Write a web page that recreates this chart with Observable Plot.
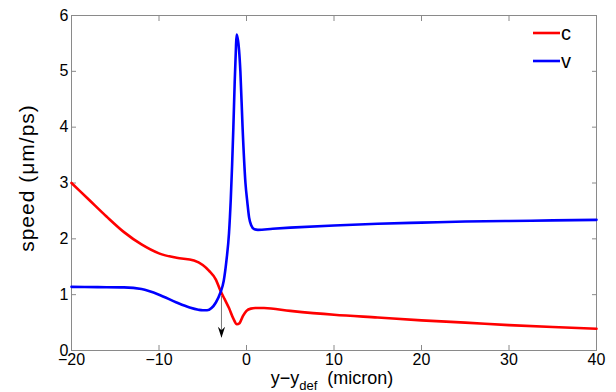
<!DOCTYPE html>
<html>
<head>
<meta charset="utf-8">
<script src="https://cdn.jsdelivr.net/npm/d3@7"></script>
<script src="https://cdn.jsdelivr.net/npm/@observablehq/plot@0.6"></script>
<style>
  html, body { margin: 0; padding: 0; background: #fff; }
  #chart { width: 616px; height: 392px; }
</style>
</head>
<body>
<div id="chart"></div>
<script>
// ---- data ----
const cX = [-20, -18, -16, -14, -12, -10, -8, -6, -5, -4.3, -3.5, -3, -2.5, -2, -1.5, -1.1, -0.8, -0.4, 0, 0.5, 1, 2, 5, 10, 15, 20, 25, 30, 35, 40];
const cY = [3.0, 2.7, 2.4, 2.12, 1.9, 1.74, 1.66, 1.61, 1.53, 1.43, 1.27, 1.08, 0.92, 0.76, 0.57, 0.47, 0.49, 0.62, 0.71, 0.75, 0.76, 0.76, 0.71, 0.64, 0.59, 0.54, 0.5, 0.455, 0.42, 0.39];

const vX = [-20, -17, -14, -12, -10, -8, -6.5, -5.5, -5, -4.5, -4, -3.5, -3, -2.6, -2.3, -2.0, -1.8, -1.65, -1.5, -1.35, -1.2, -1.12, -0.85, -0.7, -0.45, -0.12, 0.1, 0.3, 0.55, 0.9, 1.3, 3, 5, 10, 15, 20, 25, 30, 35, 40];
const vY = [1.14, 1.135, 1.13, 1.1, 1.0, 0.86, 0.77, 0.73, 0.72, 0.72, 0.76, 0.86, 1.03, 1.25, 1.6, 2.1, 2.7, 3.3, 4.0, 4.8, 5.45, 5.66, 5.38, 5.0, 4.0, 3.0, 2.65, 2.38, 2.24, 2.17, 2.16, 2.18, 2.2, 2.24, 2.27, 2.29, 2.31, 2.32, 2.33, 2.34];

const xTicks = [-20, -10, 0, 10, 20, 30, 40];
const yTicks = [0, 1, 2, 3, 4, 5, 6];

const seriesNames = ["c", "v"];
const seriesColors = ["#ff0000", "#0000ff"];

const arrowX = [-2.86];
const arrowTop = [0.97];
const arrowTip = [0.23];

// ---- tables built from the arrays ----
const cData = cX.map((x, i) => ({x, y: cY[i]}));
const vData = vX.map((x, i) => ({x, y: vY[i]}));
const arrowData = arrowX.map((x, i) => ({x, y1: arrowTop[i], y2: arrowTip[i]}));

const arrowHead = {
  draw(ctx) {
    ctx.moveTo(0, 0);
    ctx.lineTo(-3.6, -11);
    ctx.lineTo(0, -7.5);
    ctx.lineTo(3.6, -11);
    ctx.closePath();
  }
};

const axisGray = "#8a8a8a";
const font = "'Liberation Sans', Arial, Helvetica, sans-serif";
const intFmt = d3.format("d");

const chart = Plot.plot({
  width: 616,
  height: 392,
  marginLeft: 71,
  marginRight: 20,
  marginTop: 15,
  marginBottom: 42,
  style: { fontFamily: font, fontSize: "16px", background: "#fff", overflow: "visible" },
  x: { domain: [-20, 40], ticks: xTicks },
  y: { domain: [0, 6], ticks: yTicks },
  marks: [
    Plot.frame({ stroke: axisGray }),
    Plot.axisX(xTicks, { anchor: "bottom", tickSize: -5, tickPadding: 8, tickFormat: intFmt, stroke: axisGray, fill: "black", label: null, fontSize: 16 }),
    Plot.axisX(xTicks, { anchor: "top", tickSize: -5, tickFormat: () => "", stroke: axisGray, label: null }),
    Plot.axisY(yTicks, { anchor: "left", tickSize: -5, tickPadding: 8, tickFormat: intFmt, stroke: axisGray, fill: "black", label: null, fontSize: 16 }),
    Plot.axisY(yTicks, { anchor: "right", tickSize: -5, tickFormat: () => "", stroke: axisGray, label: null }),
    Plot.ruleX(arrowData, { x: "x", y1: "y1", y2: "y2", stroke: "#7a7a7a", strokeWidth: 1 }),
    Plot.dot(arrowData, { x: "x", y: "y2", symbol: arrowHead, fill: "black", stroke: "none", r: 4 }),
    Plot.line(cData, { x: "x", y: "y", stroke: seriesColors[0], strokeWidth: 2.6, curve: "monotone-x" }),
    Plot.line(vData, { x: "x", y: "y", stroke: seriesColors[1], strokeWidth: 2.6, curve: "monotone-x" })
  ]
});

document.getElementById("chart").appendChild(chart);

// ---- labels and legend ----
const svg = d3.select(chart);

svg.append("text")
  .attr("transform", "translate(34,178) rotate(-90)")
  .attr("text-anchor", "middle")
  .attr("font-family", font)
  .attr("font-size", 21)
  .attr("letter-spacing", 1)
  .attr("fill", "black")
  .text("speed (μm/ps)");

const xl = svg.append("text")
  .attr("x", 332)
  .attr("y", 384)
  .attr("text-anchor", "middle")
  .attr("font-family", font)
  .attr("font-size", 18)
  .attr("fill", "black");
xl.append("tspan").text("y−y");
xl.append("tspan").attr("font-size", 13).attr("dy", 6).text("def");
xl.append("tspan").attr("dy", -6).text("\u00a0\u00a0(micron)");

const legendY = [33, 61];
seriesNames.forEach((name, i) => {
  svg.append("line")
    .attr("x1", 533).attr("x2", 560)
    .attr("y1", legendY[i]).attr("y2", legendY[i])
    .attr("stroke", seriesColors[i])
    .attr("stroke-width", 2.6);
  svg.append("text")
    .attr("x", 566)
    .attr("y", legendY[i] + 7)
    .attr("font-family", font)
    .attr("font-size", 20)
    .attr("fill", "black")
    .text(name);
});
</script>
</body>
</html>
